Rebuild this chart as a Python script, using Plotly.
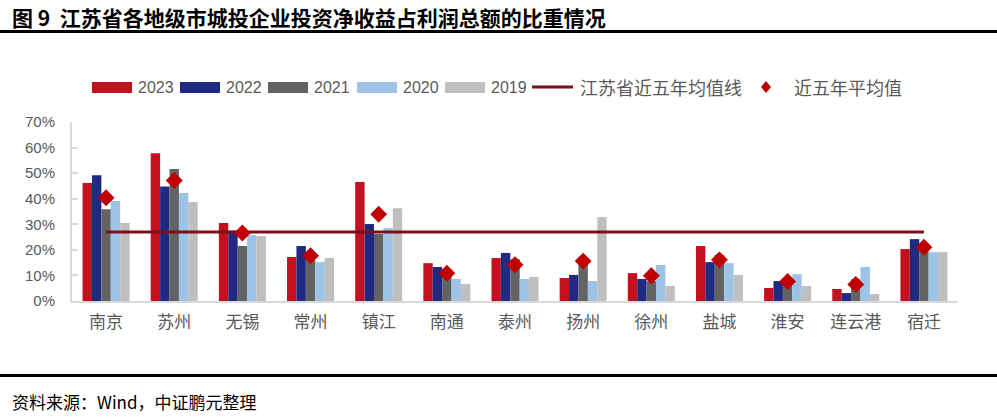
import plotly.graph_objects as go

cities = ["南京", "苏州", "无锡", "常州", "镇江", "南通", "泰州", "扬州", "徐州", "盐城", "淮安", "连云港", "宿迁"]
v2023 = [46.1, 57.8, 30.5, 17.2, 46.5, 14.8, 16.8, 9.0, 10.9, 21.5, 5.1, 4.7, 20.3]
v2022 = [49.2, 44.8, 27.5, 21.5, 30.1, 13.3, 18.8, 10.2, 8.6, 15.2, 7.8, 3.1, 24.2]
v2021 = [35.9, 51.6, 21.5, 16.0, 26.2, 11.0, 16.4, 16.0, 7.8, 18.0, 8.0, 8.5, 21.2]
v2020 = [39.1, 42.2, 25.8, 15.2, 28.5, 8.6, 8.6, 7.8, 14.1, 14.8, 10.5, 13.3, 19.1]
v2019 = [30.5, 38.7, 25.4, 16.8, 36.3, 6.6, 9.4, 32.8, 5.9, 10.2, 5.9, 2.7, 19.1]
avg5 = [40.4, 47.1, 26.6, 17.7, 33.9, 10.9, 14.2, 15.6, 9.9, 16.1, 7.6, 6.5, 21.0]
jiangsu_avg = 27.0
years = ["2023", "2022", "2021", "2020", "2019"]
yticks = [0, 10, 20, 30, 40, 50, 60, 70]
ytick_labels = ["0%", "10%", "20%", "30%", "40%", "50%", "60%", "70%"]

colors = ["#C41120", "#1F2A80", "#636363", "#9DC3E6", "#BFBFBF"]
series = [v2023, v2022, v2021, v2020, v2019]

W, H = 997, 419
L, R, T, B = 72, 958, 122, 301

def px(x):
    return (x - L) / (R - L)

def py(y):
    return (B - y) / (B - T)

fig = go.Figure()
for name, vals, c in zip(years, series, colors):
    fig.add_trace(go.Bar(x=cities, y=vals, name=name, marker=dict(color=c, line=dict(width=0)),
                         showlegend=False))

fig.add_trace(go.Scatter(x=cities, y=[jiangsu_avg] * len(cities), mode="lines",
                         line=dict(color="#7B1016", width=3), showlegend=False))
fig.add_trace(go.Scatter(x=cities, y=avg5, mode="markers",
                         marker=dict(symbol="diamond", color="#C00000", size=13), showlegend=False))

shapes = []
annotations = []
gray = "#595959"
num_font = dict(family="Liberation Sans, Arial", size=16, color=gray)
cjk_font = dict(family="Noto Sans CJK SC", size=18, color=gray)

# legend boxes
box_x = [(92, 132), (180, 220), (268, 308), (357, 397), (445, 485)]
text_x = [136, 224, 312, 401, 489]
for (x0, x1), tx, c, name in zip(box_x, text_x, colors, years):
    shapes.append(dict(type="rect", xref="paper", yref="paper", x0=px(x0), x1=px(x1),
                       y0=py(93), y1=py(82), fillcolor=c, line=dict(width=0)))
    annotations.append(dict(xref="paper", yref="paper", x=px(tx), y=py(87), text=name,
                            showarrow=False, xanchor="left", yanchor="middle", font=num_font))
shapes.append(dict(type="line", xref="paper", yref="paper", x0=px(532), x1=px(573),
                   y0=py(87), y1=py(87), line=dict(color="#7B1016", width=3)))
annotations.append(dict(xref="paper", yref="paper", x=px(578), y=py(87), text="江苏省近五年均值线",
                        showarrow=False, xanchor="left", yanchor="middle", font=cjk_font))
shapes.append(dict(type="path", xref="paper", yref="paper",
                   path="M {a},{b} L {c},{d} L {a},{e} L {f},{d} Z".format(
                       a=px(766), b=py(81), c=px(771), d=py(87), e=py(93), f=px(761)),
                   fillcolor="#C00000", line=dict(width=0)))
annotations.append(dict(xref="paper", yref="paper", x=px(792), y=py(87), text="近五年平均值",
                        showarrow=False, xanchor="left", yanchor="middle", font=cjk_font))

# title and footer
annotations.append(dict(xref="paper", yref="paper", x=px(10), y=py(17),
                        text="<b>图 9  江苏省各地级市城投企业投资净收益占利润总额的比重情况</b>",
                        showarrow=False, xanchor="left", yanchor="middle",
                        font=dict(family="Noto Sans CJK SC", size=21, color="#000000")))
annotations.append(dict(xref="paper", yref="paper", x=px(10), y=py(401),
                        text="资料来源：Wind，中证鹏元整理",
                        showarrow=False, xanchor="left", yanchor="middle",
                        font=dict(family="Noto Sans CJK SC", size=17, color="#000000")))
shapes.append(dict(type="line", xref="paper", yref="paper", x0=px(0), x1=px(997),
                   y0=py(31.5), y1=py(31.5), line=dict(color="#000000", width=3)))
shapes.append(dict(type="line", xref="paper", yref="paper", x0=px(0), x1=px(997),
                   y0=py(375.5), y1=py(375.5), line=dict(color="#000000", width=3)))

fig.update_layout(
    width=W, height=H,
    margin=dict(l=L, r=W - R, t=T, b=H - B, pad=0, autoexpand=False),
    paper_bgcolor="white", plot_bgcolor="white",
    barmode="group", bargap=0.31, bargroupgap=0,
    shapes=shapes, annotations=annotations,
    showlegend=False,
    xaxis=dict(range=[-0.5, len(cities) - 0.5], showline=True, linecolor="#D9D9D9", linewidth=2,
               showgrid=False, ticks="", tickfont=dict(family="Noto Sans CJK SC", size=17, color=gray),
               ticklabelstandoff=5, zeroline=False, automargin=False),
    yaxis=dict(range=[0, 70], tickvals=yticks, ticktext=ytick_labels, showline=True,
               linecolor="#D9D9D9", linewidth=2, showgrid=False, zeroline=False,
               ticks="inside", ticklen=6, tickcolor="#D9D9D9", tickwidth=2,
               tickfont=dict(family="Liberation Sans, Arial", size=15, color=gray),
               ticklabelstandoff=12, automargin=False),
)

fig.write_html("out.html", config={"displayModeBar": False},
               post_script="document.body.style.margin='0';document.body.style.overflow='hidden';")
